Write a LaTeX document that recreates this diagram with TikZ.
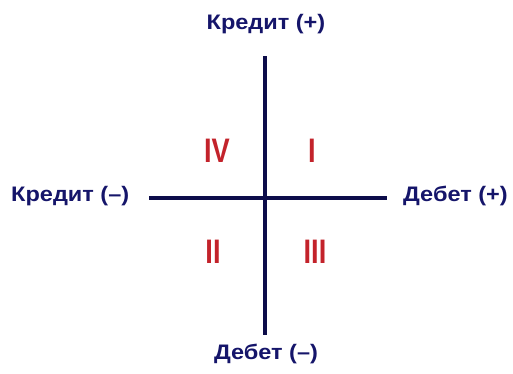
\documentclass[tikz,border=0pt]{standalone}
\usepackage{fontspec}
\setmainfont{Liberation Sans}
\definecolor{navy}{HTML}{15156A}
\definecolor{axisc}{HTML}{0D0D4A}
\definecolor{romred}{HTML}{C3232B}
\tikzset{
  axislbl/.style={font=\fontsize{21}{23}\selectfont\bfseries, text=navy, inner sep=0pt, xscale=1.12},
  roman/.style={font=\fontsize{34}{36}\selectfont\bfseries, text=romred, inner sep=0pt, xscale=0.8},
  axisline/.style={draw=axisc, line width=3.2pt}
}
\begin{document}
\begin{tikzpicture}[x=1pt,y=-1pt]
\useasboundingbox (0,0) rectangle (513,373);
\node[axislbl] (ktop) at (266,24) {Кредит (+)};
\node[axislbl] (dbot) at (266,354) {Дебет (–)};
\node[axislbl, anchor=west] (kleft) at (11,196) {Кредит (–)};
\node[axislbl, anchor=east] (dright) at (508,196) {Дебет (+)};
\coordinate (t) at (265,56);
\coordinate (b) at (265,335);
\coordinate (l) at (149,198);
\coordinate (r) at (387,198);
\draw[axisline] (t) -- (b);
\draw[axisline] (l) -- (r);
\node[roman] (q4) at (217,151) {IV};
\node[roman] (q1) at (312,151) {I};
\node[roman] (q2) at (213,252) {II};
\node[roman] (q3) at (315,252) {III};
\end{tikzpicture}
\end{document}
